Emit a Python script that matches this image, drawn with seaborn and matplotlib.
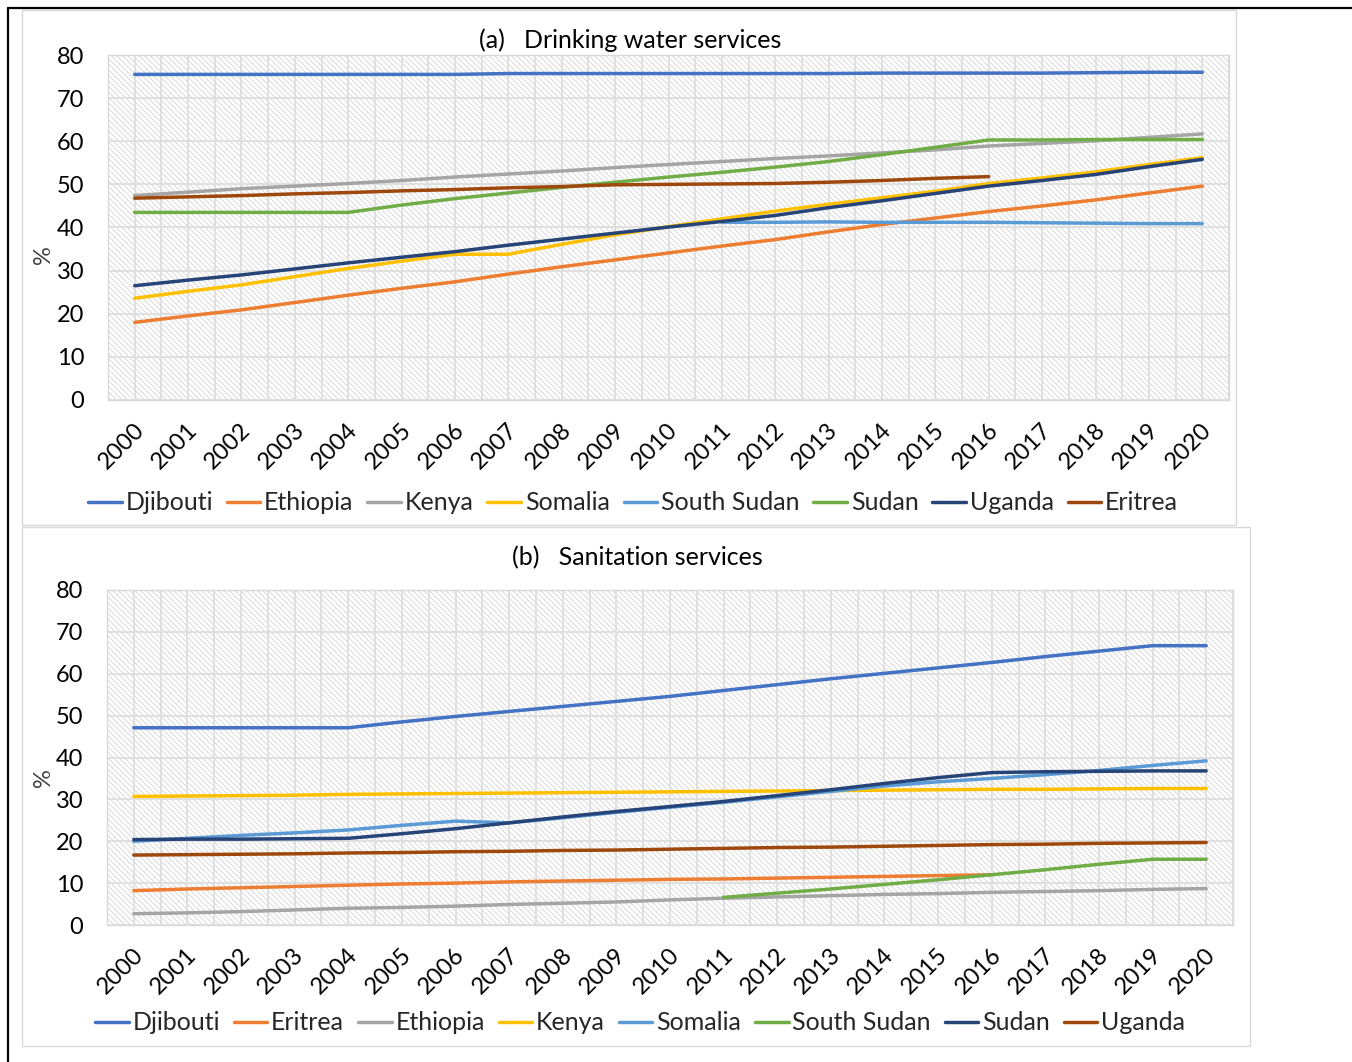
import numpy as np
import pandas as pd
import matplotlib
matplotlib.use("Agg")
import matplotlib.pyplot as plt
from matplotlib.patches import Rectangle
from matplotlib.lines import Line2D
from matplotlib.transforms import ScaledTranslation
import seaborn as sns

nan = np.nan
years = list(range(2000, 2021))
year_labels = [str(y) for y in years]

# ---------------- (a) Drinking water services ----------------
water_countries = ["Djibouti", "Ethiopia", "Kenya", "Somalia",
                   "South Sudan", "Sudan", "Uganda", "Eritrea"]
water_djibouti = [75.5, 75.5, 75.5, 75.5, 75.5, 75.5, 75.5, 75.7, 75.7, 75.7, 75.7,
                  75.7, 75.7, 75.7, 75.8, 75.8, 75.8, 75.8, 75.9, 76.0, 76.0]
water_ethiopia = [18.0, 19.5, 20.9, 22.6, 24.3, 25.9, 27.4, 29.2, 30.9, 32.5, 34.1,
                  35.7, 37.2, 39.0, 40.7, 42.2, 43.7, 45.0, 46.4, 48.0, 49.6]
water_kenya = [47.4, 48.2, 49.0, 49.6, 50.2, 50.9, 51.7, 52.4, 53.1, 53.9, 54.6,
               55.3, 56.0, 56.6, 57.3, 58.0, 58.9, 59.5, 60.1, 60.9, 61.7]
water_somalia = [23.6, 25.2, 26.7, 28.6, 30.5, 32.2, 33.8, 33.8, 36.1, 38.3, 40.2,
                 42.0, 43.8, 45.4, 46.9, 48.4, 50.2, 51.5, 52.9, 54.6, 56.2]
water_south_sudan = [nan, nan, nan, nan, nan, nan, nan, nan, nan, nan, nan,
                     41.2, 41.2, 41.3, 41.2, 41.2, 41.2, 41.1, 41.0, 40.9, 40.9]
water_sudan = [43.5, 43.5, 43.5, 43.5, 43.5, 45.2, 46.7, 48.0, 49.3, 50.5, 51.7,
               52.8, 54.0, 55.3, 56.9, 58.6, 60.3, 60.3, 60.4, 60.4, 60.4]
water_uganda = [26.5, 27.8, 29.0, 30.4, 31.8, 33.1, 34.4, 35.9, 37.3, 38.7, 40.1,
                41.4, 42.8, 44.6, 46.2, 47.9, 49.6, 50.9, 52.3, 54.1, 55.8]
water_eritrea = [46.8, 47.1, 47.4, 47.8, 48.1, 48.5, 48.8, 49.2, 49.5, 49.9, 50.0,
                 50.1, 50.2, 50.5, 50.9, 51.4, 51.8, nan, nan, nan, nan]

# ---------------- (b) Sanitation services ----------------
san_countries = ["Djibouti", "Eritrea", "Ethiopia", "Kenya",
                 "Somalia", "South Sudan", "Sudan", "Uganda"]
san_djibouti = [47.1, 47.1, 47.1, 47.1, 47.1, 48.5, 49.8, 51.0, 52.2, 53.4, 54.6,
                56.0, 57.4, 58.8, 60.1, 61.4, 62.7, 64.1, 65.4, 66.7, 66.7]
san_eritrea = [8.2, 8.6, 8.9, 9.2, 9.5, 9.8, 10.0, 10.3, 10.5, 10.7, 10.9,
               11.0, 11.2, 11.4, 11.6, 11.8, 12.0, nan, nan, nan, nan]
san_ethiopia = [2.7, 2.9, 3.2, 3.6, 4.0, 4.2, 4.5, 4.9, 5.2, 5.5, 6.0,
                6.4, 6.7, 7.0, 7.3, 7.5, 7.8, 8.0, 8.2, 8.5, 8.7]
san_kenya = [30.7, 30.8, 30.9, 31.0, 31.2, 31.3, 31.4, 31.5, 31.6, 31.7, 31.8,
             31.9, 32.0, 32.1, 32.2, 32.3, 32.4, 32.4, 32.5, 32.6, 32.6]
san_somalia = [20.0, 20.7, 21.4, 22.0, 22.7, 23.8, 24.8, 24.4, 25.6, 26.9, 28.1,
               29.3, 30.6, 31.9, 33.2, 34.2, 35.0, 35.9, 36.9, 38.1, 39.2]
san_south_sudan = [nan, nan, nan, nan, nan, nan, nan, nan, nan, nan, nan,
                   6.6, 7.6, 8.6, 9.7, 10.8, 12.0, 13.2, 14.5, 15.7, 15.7]
san_sudan = [20.4, 20.5, 20.5, 20.6, 20.7, 21.8, 23.0, 24.4, 25.8, 27.1, 28.3,
             29.5, 30.9, 32.3, 33.8, 35.2, 36.4, 36.6, 36.7, 36.8, 36.8]
san_uganda = [16.7, 16.8, 16.9, 17.0, 17.2, 17.3, 17.5, 17.6, 17.8, 17.9, 18.1,
              18.3, 18.5, 18.6, 18.8, 19.0, 19.2, 19.3, 19.5, 19.6, 19.7]

series_colors = ["#4472C4", "#ED7D31", "#A5A5A5", "#FFC000",
                 "#5B9BD5", "#70AD47", "#264478", "#9E480E"]

water_values = [water_djibouti, water_ethiopia, water_kenya, water_somalia,
                water_south_sudan, water_sudan, water_uganda, water_eritrea]
san_values = [san_djibouti, san_eritrea, san_ethiopia, san_kenya,
              san_somalia, san_south_sudan, san_sudan, san_uganda]


def long_frame(countries, values):
    rows = []
    for name, vals in zip(countries, values):
        for yr, v in zip(years, vals):
            rows.append({"Year": yr, "Value": v, "Country": name})
    return pd.DataFrame(rows).dropna()


water_df = long_frame(water_countries, water_values)
san_df = long_frame(san_countries, san_values)

sns.set_style("white")
plt.rcParams["font.family"] = ["Lato", "DejaVu Sans"]
plt.rcParams["hatch.linewidth"] = 0.5

W, H = 1352, 1062
FS = 17
fig = plt.figure(figsize=(W / 100, H / 100), dpi=100)


def fx(x):
    return x / W


def fy(y):
    return 1 - y / H


def add_box(x0, y0, x1, y1, color="#d9d9d9", lw=1.0):
    fig.add_artist(Rectangle((fx(x0), fy(y1)), fx(x1) - fx(x0), fy(y0) - fy(y1),
                             transform=fig.transFigure, facecolor="none",
                             edgecolor=color, linewidth=lw, zorder=0))


# chart frames
add_box(22, 10, 1236, 525)
add_box(22, 527, 1250, 1046)
fig.add_artist(Line2D([fx(8), fx(W)], [fy(8), fy(8)], transform=fig.transFigure,
                      color="black", linewidth=1.6))
fig.add_artist(Line2D([fx(8), fx(8)], [fy(8), fy(H)], transform=fig.transFigure,
                      color="black", linewidth=1.6))


def draw_panel(rect, df, countries, title, title_xy, legend_xy, ylabel_xy):
    ax = fig.add_axes(rect)
    ax.set_facecolor("white")
    ax.add_patch(Rectangle((0, 0), 1, 1, transform=ax.transAxes, facecolor="white",
                           edgecolor="#cccccc", hatch="\\" * 6, linewidth=0, zorder=0))
    palette = dict(zip(countries, series_colors))
    sns.lineplot(data=df, x="Year", y="Value", hue="Country", hue_order=countries,
                 palette=palette, estimator=None, errorbar=None, linewidth=2.5,
                 legend=False, ax=ax)
    ax.set_xlim(1999.5, 2020.5)
    ax.set_ylim(0, 80)
    ax.set_xticks(years)
    ax.set_xticks(np.arange(1999.5, 2021, 1.0), minor=True)
    ax.set_yticks(range(0, 81, 10))
    ax.set_axisbelow(True)
    ax.grid(True, which="both", axis="x", color="#dedede", linewidth=1.3)
    ax.grid(True, which="major", axis="y", color="#dedede", linewidth=1.3)
    ax.tick_params(which="both", length=0)
    ax.tick_params(axis="y", labelsize=FS, pad=17, labelcolor="black")
    ax.tick_params(axis="x", labelsize=FS, pad=19, labelcolor="black")
    ax.set_xticklabels(year_labels, rotation=45, ha="right", va="center",
                       rotation_mode="anchor")
    shift = ScaledTranslation(6 / 100, 0, fig.dpi_scale_trans)
    for lab in ax.get_xticklabels():
        lab.set_transform(lab.get_transform() + shift)
    for sp in ax.spines.values():
        sp.set_color("#d9d9d9")
        sp.set_linewidth(1.0)
    ax.set_xlabel("")
    ax.set_ylabel("%", fontsize=FS, color="#404040")
    ax.yaxis.set_label_coords(*ylabel_xy)

    fig.text(fx(title_xy[0]), fy(title_xy[1]), title, ha="center", va="center",
             fontsize=18, color="black")

    handles = [Line2D([0], [0], color=c, linewidth=2.5) for c in series_colors]
    fig.legend(handles, countries, loc="center", ncol=8, frameon=False,
               bbox_to_anchor=(fx(legend_xy[0]), fy(legend_xy[1])),
               fontsize=18, handlelength=1.35, handletextpad=0.15,
               columnspacing=0.55, borderaxespad=0)
    return ax


draw_panel([fx(108), fy(400), fx(1229) - fx(108), fy(55) - fy(400)],
           water_df, water_countries, "(a)   Drinking water services",
           (630, 40), (633, 503), (-0.048, 0.423))
draw_panel([fx(107), fy(925), fx(1233) - fx(107), fy(590) - fy(925)],
           san_df, san_countries, "(b)   Sanitation services",
           (637, 558), (640, 1023), (-0.047, 0.44))

fig.savefig("out.png", dpi=100)
